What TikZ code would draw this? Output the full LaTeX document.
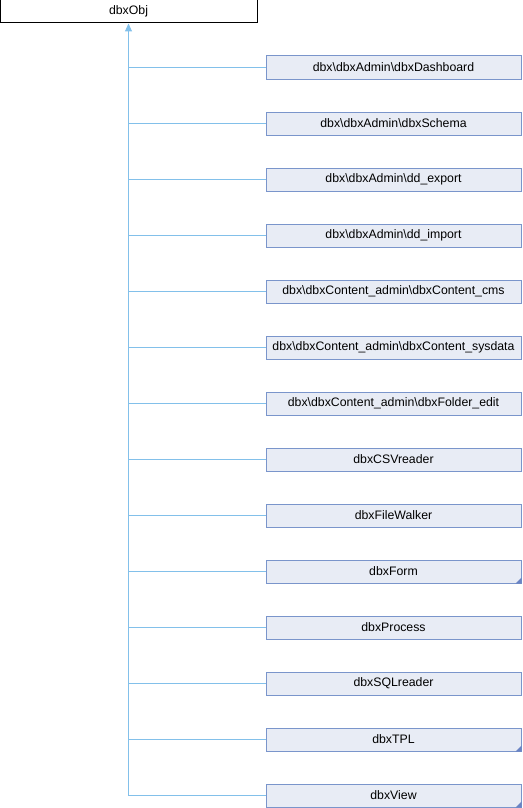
\documentclass[tikz,border=0pt]{standalone}
\usepackage{fontspec}
\setmainfont{Liberation Sans}
\usetikzlibrary{arrows.meta}
\definecolor{boxfill}{HTML}{E8ECF5}
\definecolor{boxline}{HTML}{7A95CB}
\definecolor{edgeblue}{HTML}{82C0EA}
\definecolor{cornerblue}{HTML}{6A84C4}
\newcommand{\bs}{\textbackslash}
\tikzset{
	basebox/.style={draw=black, fill=white, line width=1pt, minimum width=257pt, minimum height=23pt, inner sep=0pt, font=\fontsize{12.3}{14}\selectfont},
	classbox/.style={draw=boxline, fill=boxfill, line width=1pt, minimum width=255pt, minimum height=23pt, inner sep=0pt, font=\fontsize{12.3}{14}\selectfont},
	edge/.style={draw=edgeblue, line width=1pt},
}
\begin{document}
\begin{tikzpicture}[x=1pt, y=-1pt]
	\useasboundingbox (0,0) rectangle (522,808);
	
	% Clase base
		\node[basebox] (obj) at (128.5,11.5) {dbxObj};
	
	% Clases derivadas
		\foreach \i/\name in {1/dbx\bs dbxAdmin\bs dbxDashboard, 2/dbx\bs dbxAdmin\bs dbxSchema, 3/dbx\bs dbxAdmin\bs dd\_export, 4/dbx\bs dbxAdmin\bs dd\_import, 5/dbx\bs dbxContent\_admin\bs dbxContent\_cms, 6/dbx\bs dbxContent\_admin\bs dbxContent\_sysdata, 7/dbx\bs dbxContent\_admin\bs dbxFolder\_edit, 8/dbxCSVreader, 9/dbxFileWalker, 10/dbxForm, 11/dbxProcess, 12/dbxSQLreader, 13/dbxTPL, 14/dbxView}
			\node[classbox] (c\i) at (393.5,{67.5+56*(\i-1)}) {\name};
	
	% Esquinas de clases con hijos
		\foreach \i in {10,13,14}
			\fill[cornerblue] ([xshift=-6pt]c\i.south east) -- (c\i.south east) -- ([yshift=6pt]c\i.south east) -- cycle;
	
	% Herencia
		\foreach \i in {1,...,13}
			\draw[edge] (c\i.west) -- (c\i.west -| obj.south);
		\draw[edge, -{Triangle[length=8pt, width=7pt, fill=edgeblue]}] (c14.west) -| (obj.south);
\end{tikzpicture}
\end{document}
